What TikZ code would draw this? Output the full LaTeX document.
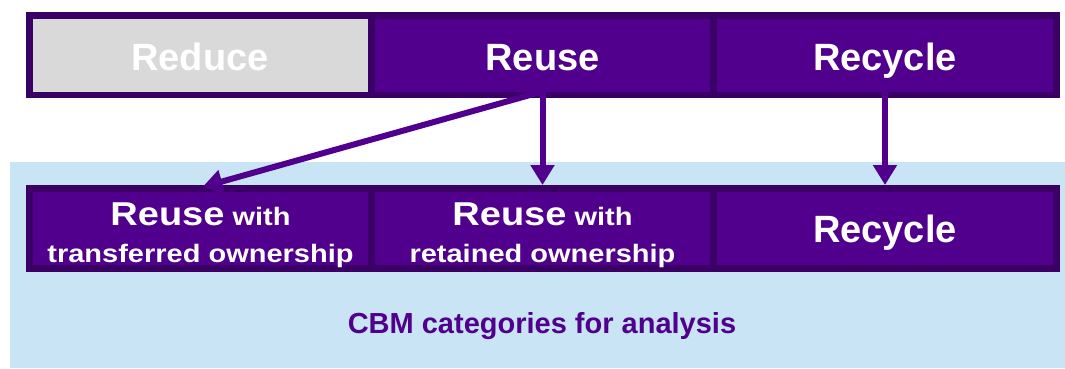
\documentclass[tikz,border=0pt]{standalone}
\usepackage{fontspec}
\setmainfont{Liberation Sans}
\usetikzlibrary{arrows.meta}
\definecolor{cellfill}{RGB}{80,0,140}
\definecolor{cellborder}{RGB}{58,0,102}
\definecolor{lightblue}{RGB}{200,228,245}
\definecolor{cellgray}{RGB}{217,217,217}
\tikzset{
  cell/.style={rectangle, fill=cellfill, inner sep=0pt, outer sep=0pt, minimum height=73pt},
  graycell/.style={cell, fill=cellgray},
  bar/.style={rectangle, fill=cellborder, inner sep=0pt, outer sep=0pt},
  big/.style={anchor=base, inner sep=0pt, text=white, font=\fontsize{38}{40}\selectfont\bfseries},
  twoline/.style={anchor=base, inner sep=0pt, text=white, font=\bfseries},
  caption/.style={anchor=base, inner sep=0pt, text=cellfill, font=\fontsize{29}{31}\selectfont\bfseries},
  flow/.style={draw=cellfill, line width=6pt, -{Triangle[length=20pt,width=23pt]}}
}
\newcommand{\bigw}[1]{{\fontsize{38}{40}\selectfont #1}}
\newcommand{\smallw}[1]{{\fontsize{29}{31}\selectfont #1}}
\begin{document}
\begin{tikzpicture}[x=1pt,y=-1pt]
\useasboundingbox (0,0) rectangle (1065,368);
% light blue panel
\fill[lightblue] (10,162) rectangle (1065,368);
% top bar
\node[bar, minimum width=1034pt, minimum height=86pt] (topbar) at (543,55) {};
\node[graycell, minimum width=335pt] (reduce) at (200.5,55) {};
\node[cell, minimum width=335pt] (reuse) at (542.5,55) {};
\node[cell, minimum width=336pt] (recycle) at (885,55) {};
% bottom bar
\node[bar, minimum width=1034pt, minimum height=87pt] (botbar) at (543,228.5) {};
\node[cell, minimum width=335pt] (rt) at (200.5,228.5) {};
\node[cell, minimum width=335pt] (rr) at (542.5,228.5) {};
\node[cell, minimum width=336pt] (rc) at (885,228.5) {};
% top labels
\node[big] (lreduce) at (200,70) {Reduce};
\node[big] (lreuse) at (542.5,70) {Reuse};
\node[big] (lrecycle) at (885,70) {Recycle};
% bottom labels
\node[twoline] (lrt1) at (200.5,225) {\scalebox{1}[0.87]{\bigw{Reuse}\smallw{\ with}}};
\node[twoline] (lrt2) at (200.5,262) {\scalebox{1}[0.87]{\smallw{transferred ownership}}};
\node[twoline] (lrr1) at (542.5,225) {\scalebox{1}[0.87]{\bigw{Reuse}\smallw{\ with}}};
\node[twoline] (lrr2) at (542.5,262) {\scalebox{1}[0.87]{\smallw{retained ownership}}};
\node[big] (lrc) at (885,242) {Recycle};
% caption
\node[caption] (cap) at (542,333) {CBM categories for analysis};
% arrows
\draw[flow] (reuse.south) -- ([xshift=2pt,yshift=5pt]rt.north);
\draw[flow] (reuse.south) -- ([yshift=7pt]rr.north);
\draw[flow] (recycle.south) -- ([yshift=7pt]rc.north);
\end{tikzpicture}
\end{document}
